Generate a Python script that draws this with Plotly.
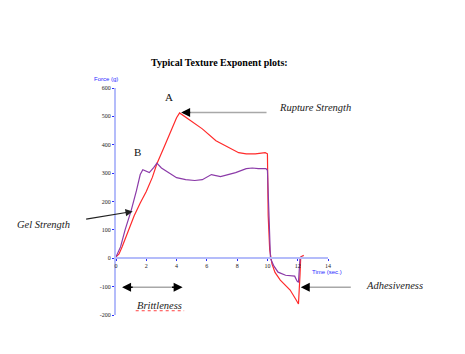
import plotly.graph_objects as go

# ---- data ----
red_t = [0, 0.2, 0.4, 0.8, 1.2, 1.6, 2.0, 2.4, 2.7, 3.2, 3.6, 4.0, 4.2, 4.8, 5.7, 6.6,
         7.45, 8.1, 8.6, 9.2, 9.85, 10.0, 10.05, 10.15, 10.3, 10.5, 10.85, 11.5, 11.9,
         12.05, 12.15, 12.2, 12.4]
red_f = [5, 15, 40, 95, 150, 195, 235, 285, 333, 395, 445, 495, 512, 490, 456, 414,
         390, 372, 368, 368, 372, 368, 150, 30, -20, -50, -77, -112, -147,
         -161, -60, 5, 10]

pur_t = [0, 0.3, 0.6, 1.0, 1.35, 1.6, 1.77, 2.0, 2.2, 2.5, 2.7, 3.0, 3.5, 4.0, 4.6,
         5.2, 5.7, 6.3, 6.9, 7.5, 7.9, 8.6, 9.0, 9.4, 9.9, 10.0, 10.1, 10.2, 10.4,
         10.7, 11.2, 11.8, 11.95, 12.05, 12.15, 12.3]
pur_f = [5, 40, 100, 168, 238, 295, 312, 308, 302, 320, 335, 318, 300, 284, 277,
         274, 277, 295, 288, 295, 302, 316, 318, 316, 316, 310, 150, 0, -25,
         -49, -60, -63, -80, -85, 0, 5]

x_ticks = [0, 2, 4, 6, 8, 10, 12, 14]
y_ticks = [-200, -100, 0, 100, 200, 300, 400, 500, 600]

title_text = "Typical Texture Exponent plots:"
x_title = "Time (sec.)"
y_title = "Force (g)"

AXIS_COL = "#b4bcfa"
BLUE = "#2b2bff"
SERIF = "Liberation Serif, Times New Roman, serif"

fig = go.Figure()
fig.add_trace(go.Scatter(x=red_t, y=red_f, mode="lines",
                         line=dict(color="#ff2a2a", width=1.2), showlegend=False))
fig.add_trace(go.Scatter(x=pur_t, y=pur_f, mode="lines",
                         line=dict(color="#8b3aa8", width=1.2), showlegend=False))

tickfont = dict(family=SERIF, size=6, color="#222")
fig.update_layout(
    width=465, height=354,
    margin=dict(l=116, r=137, t=88, b=39),
    paper_bgcolor="white", plot_bgcolor="white",
    xaxis=dict(range=[0, 14], tickvals=x_ticks, ticktext=[str(v) for v in x_ticks],
               showgrid=False, zeroline=False, showline=True, linecolor=AXIS_COL,
               linewidth=2, ticks="outside", ticklen=2, tickcolor=BLUE,
               tickfont=tickfont, anchor="free", position=0.25),
    yaxis=dict(range=[-200, 600], tickvals=y_ticks, ticktext=[str(v) for v in y_ticks],
               showgrid=False, zeroline=False, showline=True, linecolor=AXIS_COL,
               linewidth=2, ticks="outside", ticklen=2, tickcolor=BLUE,
               tickfont=tickfont),
)

# plot area in pixels: x 116..328, y 88..315
def px(xp):
    return (xp - 116) / 212.0

def py(yp):
    return (315 - yp) / 227.0

ann = []
# title
ann.append(dict(text="<b>" + title_text + "</b>", xref="paper", yref="paper",
                x=px(219.5), y=py(62), xanchor="center", yanchor="middle",
                showarrow=False, font=dict(family=SERIF, size=10, color="black")))
# axis titles
ann.append(dict(text=y_title, xref="paper", yref="paper", x=px(106), y=py(79),
                xanchor="center", yanchor="middle", showarrow=False,
                font=dict(family="Liberation Sans, Arial", size=6, color=BLUE)))
ann.append(dict(text=x_title, xref="paper", yref="paper", x=px(327), y=py(272),
                xanchor="center", yanchor="middle", showarrow=False,
                font=dict(family="Liberation Sans, Arial", size=6, color=BLUE)))
# letters
ann.append(dict(text="A", x=3.5, y=570, showarrow=False, yanchor="middle",
                font=dict(family=SERIF, size=11, color="#111")))
ann.append(dict(text="B", x=1.39, y=373, showarrow=False, yanchor="middle",
                font=dict(family=SERIF, size=11, color="#111")))

itfont = dict(family=SERIF, size=10.5, color="#222")
# Rupture strength
ann.append(dict(text="<i>Rupture Strength</i>", xref="paper", yref="paper",
                x=px(277), y=py(107), xanchor="left", yanchor="middle",
                showarrow=False, font=itfont))
ann.append(dict(x=4.6, y=514, ax=10.04, ay=514, axref="x", ayref="y", text="",
                showarrow=True, arrowhead=0, arrowwidth=1.5, arrowcolor="#a8a8a8"))
ann.append(dict(x=4.3, y=514, ax=5.0, ay=514, axref="x", ayref="y", text="",
                showarrow=True, arrowhead=2, arrowsize=1.2, arrowwidth=1.5,
                arrowcolor="black"))
# Gel strength
ann.append(dict(text="<i>Gel Strength</i>", xref="paper", yref="paper",
                x=px(43.5), y=py(224), xanchor="center", yanchor="middle",
                showarrow=False, font=itfont))
ann.append(dict(x=1.1, y=165, ax=-48, ay=8, text="", showarrow=True, arrowhead=2,
                arrowsize=1.2, arrowwidth=1.2, arrowcolor="#222"))
# Brittleness
ann.append(dict(text="<i>Brittleness</i>", x=2.9, y=-165, yanchor="middle",
                showarrow=False, font=itfont))
ann.append(dict(x=0.5, y=-102, ax=4.3, ay=-102, axref="x", ayref="y", text="",
                showarrow=True, arrowhead=0, arrowwidth=1.5, arrowcolor="#a8a8a8"))
ann.append(dict(x=0.4, y=-102, ax=1.2, ay=-102, axref="x", ayref="y", text="",
                showarrow=True, arrowhead=2, arrowsize=1.2, arrowwidth=1.5,
                arrowcolor="black"))
ann.append(dict(x=4.4, y=-102, ax=3.6, ay=-102, axref="x", ayref="y", text="",
                showarrow=True, arrowhead=2, arrowsize=1.2, arrowwidth=1.5,
                arrowcolor="black"))
# Adhesiveness
ann.append(dict(text="<i>Adhesiveness</i>", xref="paper", yref="paper",
                x=px(364), y=py(285), xanchor="left", yanchor="middle",
                showarrow=False, font=itfont))
ann.append(dict(x=12.5, y=-102, ax=47, ay=0, text="", showarrow=True, arrowhead=0,
                arrowwidth=1.5, arrowcolor="#a8a8a8"))
ann.append(dict(x=12.2, y=-102, ax=10, ay=0, text="", showarrow=True, arrowhead=2,
                arrowsize=1.2, arrowwidth=1.5, arrowcolor="black"))

fig.update_layout(annotations=ann)
# spell-check style wavy underline under "Brittleness"
fig.add_shape(type="line", xref="x", yref="y", x0=1.3, x1=4.5, y0=-185, y1=-185,
              line=dict(color="#ff4040", width=1, dash="dot"))
fig.write_html("out.html")
